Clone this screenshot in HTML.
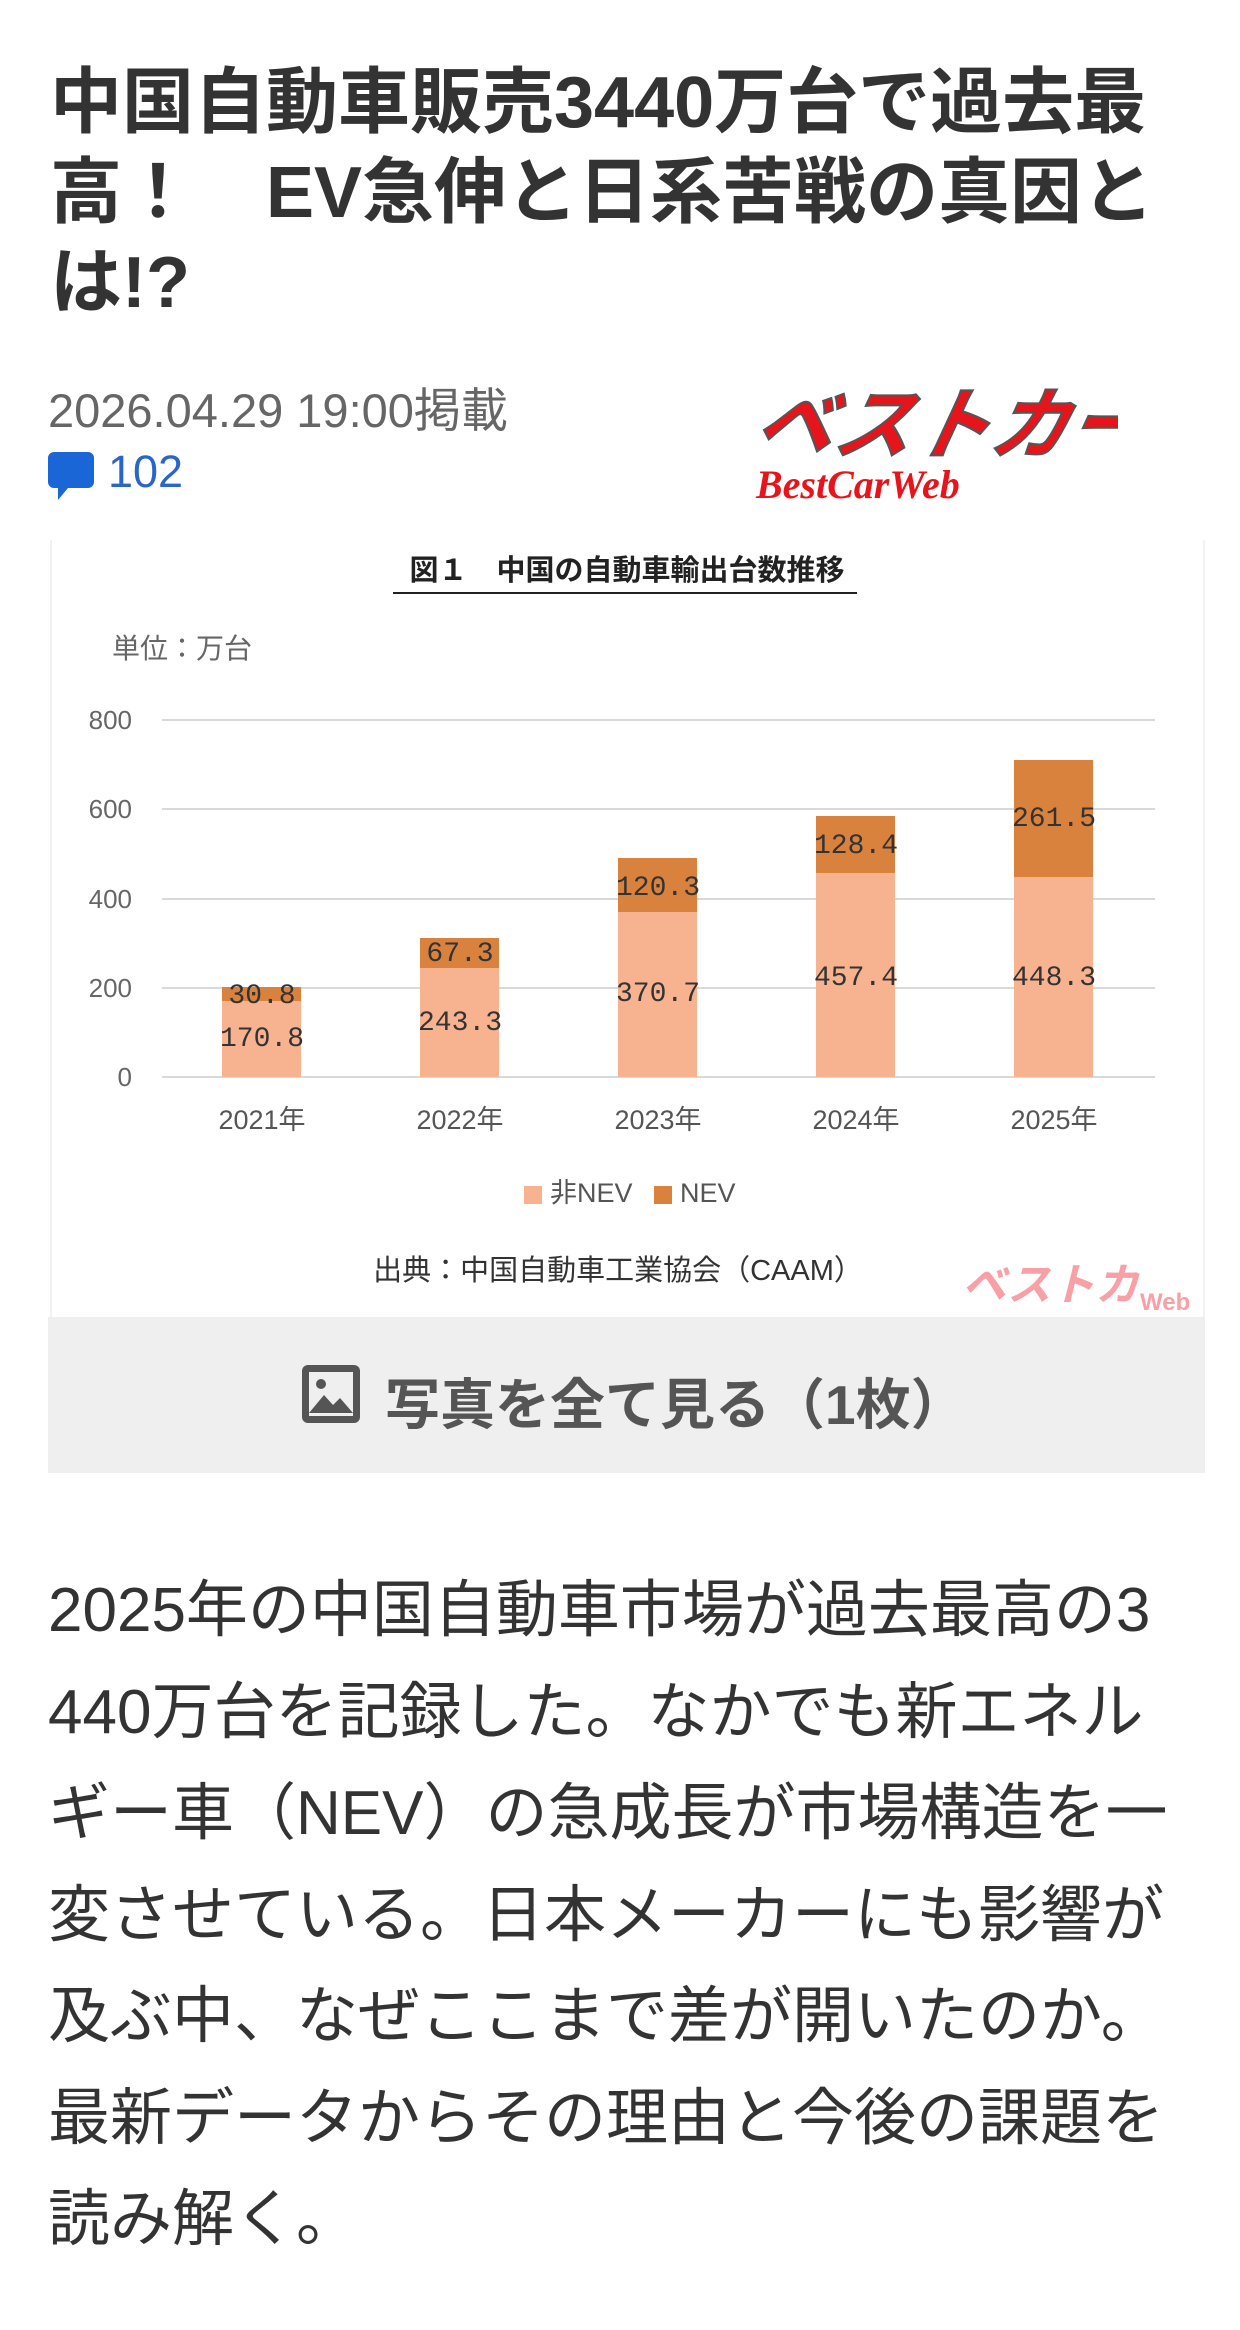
<!DOCTYPE html>
<html><head><meta charset="utf-8"><style>
*{margin:0;padding:0;box-sizing:border-box}
body{width:1240px;height:2330px;background:#fff;position:relative;overflow:hidden;font-family:"Liberation Sans","Noto Sans CJK JP",sans-serif;color:#333}
.t{position:absolute;left:50px;top:58px;font-size:72px;font-weight:bold;line-height:90px;color:#333;white-space:nowrap}
.date{position:absolute;left:48px;top:372px;font-size:47px;color:#666;white-space:nowrap}
.cm{position:absolute;left:108px;top:446px;font-size:45px;color:#2a66c9}
.body{position:absolute;left:48px;top:1560px;font-size:62px;line-height:101.5px;color:#333;white-space:nowrap}
.btn{position:absolute;left:48px;top:1317px;width:1157px;height:156px;background:#efefef}
.btntxt{position:absolute;left:385px;top:1360px;font-size:55px;font-weight:bold;color:#555;white-space:nowrap}
</style></head><body>
<div class="t">中国自動車販売3440万台で過去最<br>高！　EV急伸と日系苦戦の真因と<br>は!?</div>
<div class="date">2026.04.29 19:00掲載</div>
<svg style="position:absolute;left:48px;top:452px" width="46" height="50"><path d="M6 0h34a6 6 0 0 1 6 6v24a6 6 0 0 1-6 6H20L10 48V36H6a6 6 0 0 1-6-6V6a6 6 0 0 1 6-6z" fill="#1a66d6"/></svg>
<div class="cm">102</div>
<svg style="position:absolute;left:748px;top:372px" width="370" height="135">
<text x="20" y="80" font-size="78" font-weight="bold" font-style="italic" fill="#e8141c" stroke="#555" stroke-width="2" font-family="Noto Sans CJK JP,sans-serif" transform="skewX(-12)">ベストカー</text>
<text x="8" y="126" font-size="40" font-weight="bold" font-style="italic" fill="#e8141c" font-family="Liberation Serif,serif">BestCarWeb</text>
</svg>
<div style="position:absolute;left:50px;top:540px;width:1155px;height:777px;background:#fff;border-left:2px solid #f2f2f2;border-right:2px solid #f2f2f2"></div>
<svg style="position:absolute;left:0;top:0" width="1240" height="1320" font-family="Liberation Sans,Noto Sans CJK JP,sans-serif">
<text x="627" y="580" font-size="29" font-weight="bold" text-anchor="middle" fill="#222">図１　中国の自動車輸出台数推移</text>
<line x1="393" y1="593" x2="857" y2="593" stroke="#222" stroke-width="2"/>
<text x="112" y="658" font-size="28" fill="#666">単位：万台</text>
<g stroke="#d9d9d9" stroke-width="2">
<line x1="162" y1="720" x2="1155" y2="720"/><line x1="162" y1="809" x2="1155" y2="809"/><line x1="162" y1="899" x2="1155" y2="899"/><line x1="162" y1="988" x2="1155" y2="988"/><line x1="162" y1="1077" x2="1155" y2="1077"/></g>
<g font-size="26" fill="#666" text-anchor="end">
<text x="132" y="729">800</text><text x="132" y="818">600</text><text x="132" y="908">400</text><text x="132" y="997">200</text><text x="132" y="1086">0</text></g>
<g fill="#f7b28f">
<rect x="222" y="1001" width="79" height="76"/><rect x="420" y="968" width="79" height="109"/><rect x="618" y="912" width="79" height="165"/><rect x="816" y="873" width="79" height="204"/><rect x="1014" y="877" width="79" height="200"/></g>
<g fill="#d9823e">
<rect x="222" y="987" width="79" height="14"/><rect x="420" y="938" width="79" height="30"/><rect x="618" y="858" width="79" height="54"/><rect x="816" y="816" width="79" height="57"/><rect x="1014" y="760" width="79" height="117"/></g>
<g font-size="28" fill="#333" text-anchor="middle" font-family="Liberation Mono,monospace">
<text x="262" y="1046">170.8</text><text x="262" y="1003">30.8</text>
<text x="460" y="1030">243.3</text><text x="460" y="961">67.3</text>
<text x="658" y="1001">370.7</text><text x="658" y="895">120.3</text>
<text x="856" y="985">457.4</text><text x="856" y="853">128.4</text>
<text x="1054" y="985">448.3</text><text x="1054" y="826">261.5</text></g>
<g font-size="27" fill="#555" text-anchor="middle">
<text x="262" y="1129">2021年</text><text x="460" y="1129">2022年</text><text x="658" y="1129">2023年</text><text x="856" y="1129">2024年</text><text x="1054" y="1129">2025年</text></g>
<rect x="524" y="1186" width="18" height="18" fill="#f7b28f"/><text x="550" y="1202" font-size="27" fill="#555">非NEV</text>
<rect x="654" y="1186" width="18" height="18" fill="#d9823e"/><text x="680" y="1202" font-size="27" fill="#555">NEV</text>
<text x="618" y="1280" font-size="29" fill="#333" text-anchor="middle">出典：中国自動車工業協会（CAAM）</text>
<text x="962" y="1300" font-size="44" font-weight="bold" font-style="italic" fill="#f7a0a6" font-family="Noto Sans CJK JP,sans-serif">ベストカ</text>
<text x="1140" y="1310" font-size="24" font-weight="bold" fill="#f7a0a6">Web</text>
</svg>
<div class="btn"></div>
<svg style="position:absolute;left:300px;top:1363px" width="62" height="62"><rect x="2" y="2" width="58" height="58" rx="6" fill="#555"/><rect x="9" y="9" width="44" height="44" fill="#efefef"/><circle cx="21" cy="21" r="5" fill="#555"/><path d="M9 50L24 32l9 10 7-7 13 15z" fill="#555"/></svg>
<div class="btntxt">写真を全て見る（1枚）</div>
<div class="body">2025年の中国自動車市場が過去最高の3<br>440万台を記録した。なかでも新エネル<br>ギー車（NEV）の急成長が市場構造を一<br>変させている。日本メーカーにも影響が<br>及ぶ中、なぜここまで差が開いたのか。<br>最新データからその理由と今後の課題を<br>読み解く。</div>
</body></html>
